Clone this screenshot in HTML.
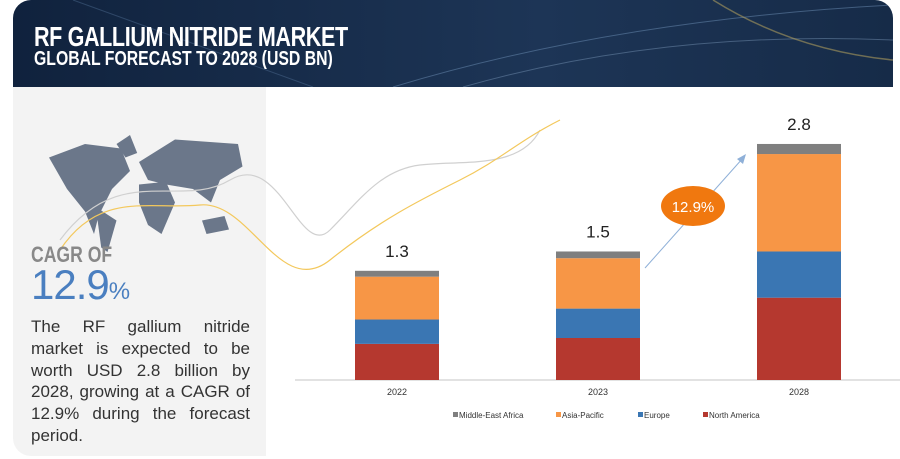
<!DOCTYPE html>
<html><head><meta charset="utf-8">
<style>
body{margin:0;width:900px;height:459px;background:#fff;position:relative;overflow:hidden;font-family:"Liberation Sans",sans-serif}
#header{position:absolute;left:13px;top:0;width:880px;height:87px;background:linear-gradient(90deg,#10223d,#1d3556 60%,#162b48);border-radius:18px 18px 0 0;overflow:hidden}
.t1{position:absolute;left:21px;top:21px;color:#fff;font-weight:bold;font-size:28px;letter-spacing:-0.5px;white-space:nowrap;transform:scaleX(0.77);transform-origin:0 0}
.t2{position:absolute;left:21px;top:48px;color:#fff;font-weight:bold;font-size:20px;white-space:nowrap;transform:scaleX(0.79);transform-origin:0 0}
#panel{position:absolute;left:13px;top:87px;width:253px;height:369px;background:#f3f3f3;border-radius:0 0 0 18px}
#cagrof{position:absolute;left:31px;top:242px;font-weight:bold;font-size:22px;color:#888;transform:scaleX(0.8);transform-origin:0 0}
#cagrval{position:absolute;left:31px;top:261px;font-size:42px;color:#4a7fc0;letter-spacing:-1px}
#cagrval span{font-size:24px}
#desc{position:absolute;left:31px;top:316px;width:219px;font-size:17px;line-height:21.8px;color:#333}
#desc span{display:block;text-align:justify;text-align-last:justify;white-space:nowrap}
#desc span.last{text-align-last:left}
</style></head><body>
<div id="header">
<svg width="880" height="87" style="position:absolute;left:0;top:0">
<path d="M380 87 Q600 20 880 5" stroke="#6d8fb5" stroke-width="1" fill="none" opacity=".5"/>
<path d="M450 87 Q650 30 880 40" stroke="#8aa8c8" stroke-width="1" fill="none" opacity=".4"/>
<path d="M60 0 L300 87" stroke="#5a7aa0" stroke-width="1" opacity=".4"/>
<path d="M700 0 Q780 50 880 60" stroke="#c8b060" stroke-width="1.5" fill="none" opacity=".5"/>
</svg>
<div class="t1">RF GALLIUM NITRIDE MARKET</div>
<div class="t2">GLOBAL FORECAST TO 2028 (USD BN)</div>
</div>
<div id="panel">
<svg width="253" height="160" style="position:absolute;left:0;top:30px">
<g transform="translate(18,0) scale(0.9)">
<path d="M20 45 L60 30 L100 35 L110 60 L90 80 L75 110 L70 130 L60 105 L40 80 Z" fill="#6b778a"/>
<path d="M72 100 L95 115 L85 150 L78 145 Z" fill="#6b778a"/>
<path d="M95 30 L110 20 L118 40 L105 45 Z" fill="#6b778a"/>
<path d="M120 50 L160 25 L230 30 L235 55 L210 70 L200 95 L180 80 L150 75 L130 70 Z" fill="#6b778a"/>
<path d="M120 75 L150 72 L160 95 L145 130 L130 120 L120 95 Z" fill="#6b778a"/>
<path d="M190 115 L215 110 L220 125 L195 130 Z" fill="#6b778a"/>
</g>
</svg>
</div>
<svg width="900" height="459" style="position:absolute;left:0;top:0">
<path d="M60 240 C120 160 180 210 230 180 S300 260 330 230 S380 170 420 165 S520 170 540 130" stroke="#d0d0d0" stroke-width="1.2" fill="none"/>
<path d="M60 250 C100 190 150 210 200 205 S280 300 330 260 S420 200 460 180 S520 140 560 120" stroke="#f3c85c" stroke-width="1.2" fill="none"/>
</svg>
<div id="cagrof">CAGR OF</div>
<div id="cagrval">12.9<span>%</span></div>
<div id="desc"><span>The RF gallium nitride</span><span>market is expected to be</span><span>worth USD 2.8 billion by</span><span>2028, growing at a CAGR of</span><span>12.9% during the forecast</span><span class="last">period.</span></div>
<svg id="chart" width="900" height="459" style="position:absolute;left:0;top:0"></svg>
<script>
const categories=["2022","2023","2028"];
const northAmerica=[0.43,0.50,0.98];
const europe=[0.29,0.35,0.55];
const asiaPacific=[0.51,0.60,1.16];
const middleEastAfrica=[0.07,0.08,0.12];
const totals=["1.3","1.5","2.8"];
const seriesNames=["Middle-East Africa","Asia-Pacific","Europe","North America"];
const NS="http://www.w3.org/2000/svg";
const svg=document.getElementById('chart');
const baseY=380,pxPerUnit=84,firstX=355,step=201,barW=84;
const y=v=>baseY-v*pxPerUnit;
const xAt=i=>firstX+i*step;
function mk(t,a){const e=document.createElementNS(NS,t);for(const k in a)e.setAttribute(k,a[k]);svg.appendChild(e);return e;}
const axis=mk('line',{x1:295,x2:900,y1:baseY,y2:baseY,stroke:'#d9d9d9','stroke-width':1.5});


const stack=[[northAmerica,'#b5382f','north-america'],[europe,'#3a76b3','europe'],[asiaPacific,'#f79646','asia-pacific'],[middleEastAfrica,'#7f7f7f','middle-east-africa']];
categories.forEach((c,i)=>{
  let cum=0;
  stack.forEach(([arr,col,nm])=>{
    const r=mk('rect',{x:xAt(i),y:y(cum+arr[i]),width:barW,height:arr[i]*pxPerUnit,fill:col});
    
    
    cum+=arr[i];
  });
  const t=mk('text',{x:xAt(i)+barW/2,y:y(cum)-14,'text-anchor':'middle','font-size':17,fill:'#222','font-family':'Liberation Sans, sans-serif'});
  t.textContent=totals[i];
  
  
  const xl=mk('text',{x:xAt(i)+barW/2,y:395,'text-anchor':'middle','font-size':9,fill:'#333','font-family':'Liberation Sans, sans-serif'});
  xl.textContent=c;
  
  
});
const cols=['#7f7f7f','#f79646','#3a76b3','#b5382f'];
const lx=[453,556,638,703];
seriesNames.forEach((n,i)=>{
  const r=mk('rect',{x:lx[i],y:412,width:5,height:5,fill:cols[i]});
  
  
  const t=mk('text',{x:lx[i]+6,y:418,'font-size':8,fill:'#333','font-family':'Liberation Sans, sans-serif'});
  t.textContent=n;
  
  
});
const ar=mk('line',{x1:645,y1:268,x2:743,y2:158,stroke:'#8fb0d8','stroke-width':1});


const ah=mk('polygon',{points:'746,154 737,159 743,164',fill:'#8fb0d8'});


const el=mk('ellipse',{cx:693,cy:206,rx:32,ry:20,fill:'#f0780f'});


const et=mk('text',{x:693,y:212,'text-anchor':'middle','font-size':15,fill:'#fff','font-family':'Liberation Sans, sans-serif'});
et.textContent='12.9%';


</script>
</body></html>
